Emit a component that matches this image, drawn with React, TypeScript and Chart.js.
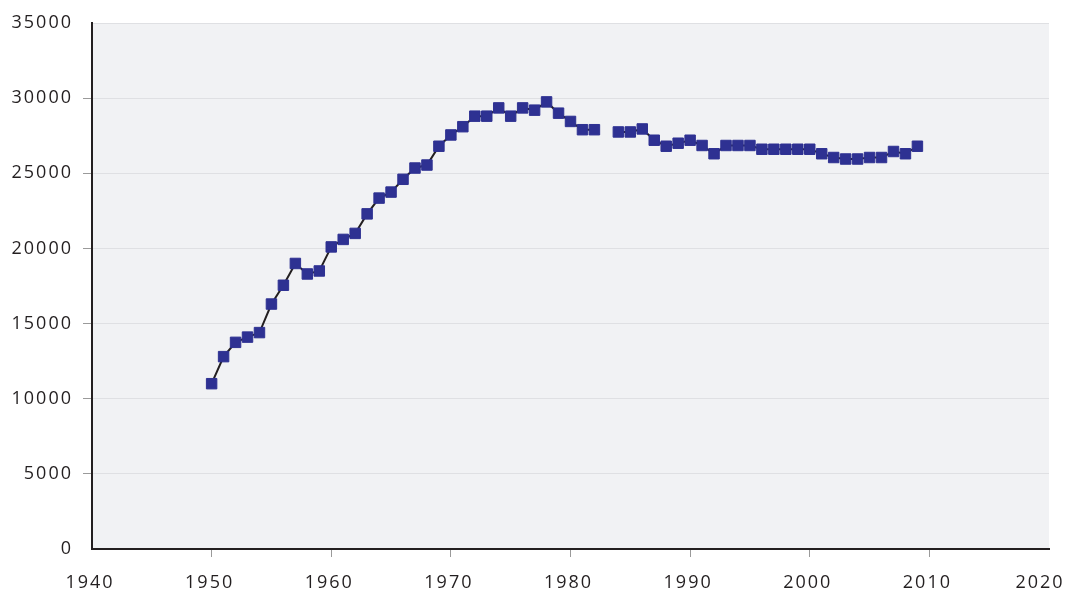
import React, { useEffect, useRef } from "react";
import { Chart, registerables } from "chart.js";

Chart.register(...registerables);

const years: number[] = [
  1950, 1951, 1952, 1953, 1954, 1955, 1956, 1957, 1958, 1959,
  1960, 1961, 1962, 1963, 1964, 1965, 1966, 1967, 1968, 1969,
  1970, 1971, 1972, 1973, 1974, 1975, 1976, 1977, 1978, 1979,
  1980, 1981, 1982, 1983, 1984, 1985, 1986, 1987, 1988, 1989,
  1990, 1991, 1992, 1993, 1994, 1995, 1996, 1997, 1998, 1999,
  2000, 2001, 2002, 2003, 2004, 2005, 2006, 2007, 2008, 2009,
];

const values: (number | null)[] = [
  11000, 12800, 13750, 14100, 14400, 16300, 17550, 19000, 18300, 18500,
  20100, 20600, 21000, 22300, 23350, 23750, 24600, 25350, 25550, 26800,
  27550, 28100, 28800, 28800, 29350, 28800, 29350, 29200, 29750, 29000,
  28450, 27900, 27900, null, 27750, 27750, 27950, 27200, 26800, 27000,
  27200, 26850, 26300, 26850, 26850, 26850, 26600, 26600, 26600, 26600,
  26600, 26300, 26050, 25950, 25950, 26050, 26050, 26450, 26300, 26800,
];

const xTicks: number[] = [1940, 1950, 1960, 1970, 1980, 1990, 2000, 2010, 2020];
const yTicks: number[] = [0, 5000, 10000, 15000, 20000, 25000, 30000, 35000];

const bgPlugin = {
  id: "plotBg",
  beforeDraw(chart: any) {
    const { ctx, chartArea } = chart;
    ctx.letterSpacing = "2px";
    if (!chartArea) return;
    const sx = chart.scales.x;
    if (sx && !sx.__shifted) {
      const items = sx.getLabelItems(chartArea);
      const last = items[items.length - 1];
      if (last && last.options && last.options.translation) {
        last.options.translation[0] -= 7;
        sx.__shifted = true;
      }
    }
    ctx.save();
    ctx.fillStyle = "#f1f2f4";
    ctx.fillRect(chartArea.left, chartArea.top, chartArea.right - chartArea.left, chartArea.bottom - chartArea.top);
    ctx.restore();
  },
};

export default function App() {
  const ref = useRef<HTMLCanvasElement | null>(null);

  useEffect(() => {
    document.body.style.margin = "0";
    const canvas = ref.current;
    if (!canvas) return;
    const data = years.map((y, i) => ({ x: y, y: values[i] }));
    const font = { family: "'Open Sans', 'DejaVu Sans', sans-serif", size: 18 };
    const chart = new Chart(canvas, {
      type: "line",
      data: {
        datasets: [
          {
            data: data as any,
            borderColor: "#231f20",
            borderWidth: 2,
            pointStyle: "rect",
            pointRadius: 7.4,
            pointBorderWidth: 1,
            pointBackgroundColor: "#2e3192",
            pointBorderColor: "#2e3192",
            spanGaps: false,
            tension: 0,
          },
        ],
      },
      options: {
        animation: false,
        responsive: true,
        maintainAspectRatio: false,
        layout: { padding: { top: 23, right: 23, left: 0, bottom: 0 } },
        plugins: { legend: { display: false }, tooltip: { enabled: false } },
        scales: {
          x: {
            type: "linear",
            min: xTicks[0],
            max: xTicks[xTicks.length - 1],
            afterBuildTicks: (s: any) => {
              s.ticks = xTicks.map((v) => ({ value: v }));
            },
            afterFit: (s: any) => {
              s.height = 43;
              s.paddingLeft = 0;
              s.paddingRight = 0;
            },
            ticks: {
              callback: (v: any) => String(v),
              font,
              color: "#231f20",
              padding: 15,
              maxRotation: 0,
              autoSkip: false,
              labelOffset: -2,
            },
            grid: {
              drawOnChartArea: false,
              drawTicks: true,
              tickLength: 8,
              tickWidth: 1,
              tickColor: (c: any) =>
                c.tick && (c.tick.value === 1940 || c.tick.value === 2020) ? "rgba(0,0,0,0)" : "#9a9a9a",
            },
            border: { color: "#231f20", width: 2 },
          },
          y: {
            type: "linear",
            min: yTicks[0],
            max: yTicks[yTicks.length - 1],
            afterBuildTicks: (s: any) => {
              s.ticks = yTicks.map((v) => ({ value: v }));
            },
            afterFit: (s: any) => {
              s.width = 92;
            },
            ticks: {
              callback: (v: any) => String(v),
              font,
              color: "#231f20",
              padding: 10,
            },
            grid: {
              color: "#dfe0e3",
              lineWidth: 1,
              drawTicks: true,
              tickLength: 9,
              tickColor: (c: any) =>
                c.tick && (c.tick.value === 0 || c.tick.value === 35000) ? "rgba(0,0,0,0)" : "#9a9a9a",
            },
            border: { color: "#231f20", width: 2 },
          },
        },
      },
      plugins: [bgPlugin],
    });
    return () => chart.destroy();
  }, []);

  return (
    <div style={{ position: "relative", width: 1072, height: 592 }}>
      <canvas ref={ref} />
    </div>
  );
}
